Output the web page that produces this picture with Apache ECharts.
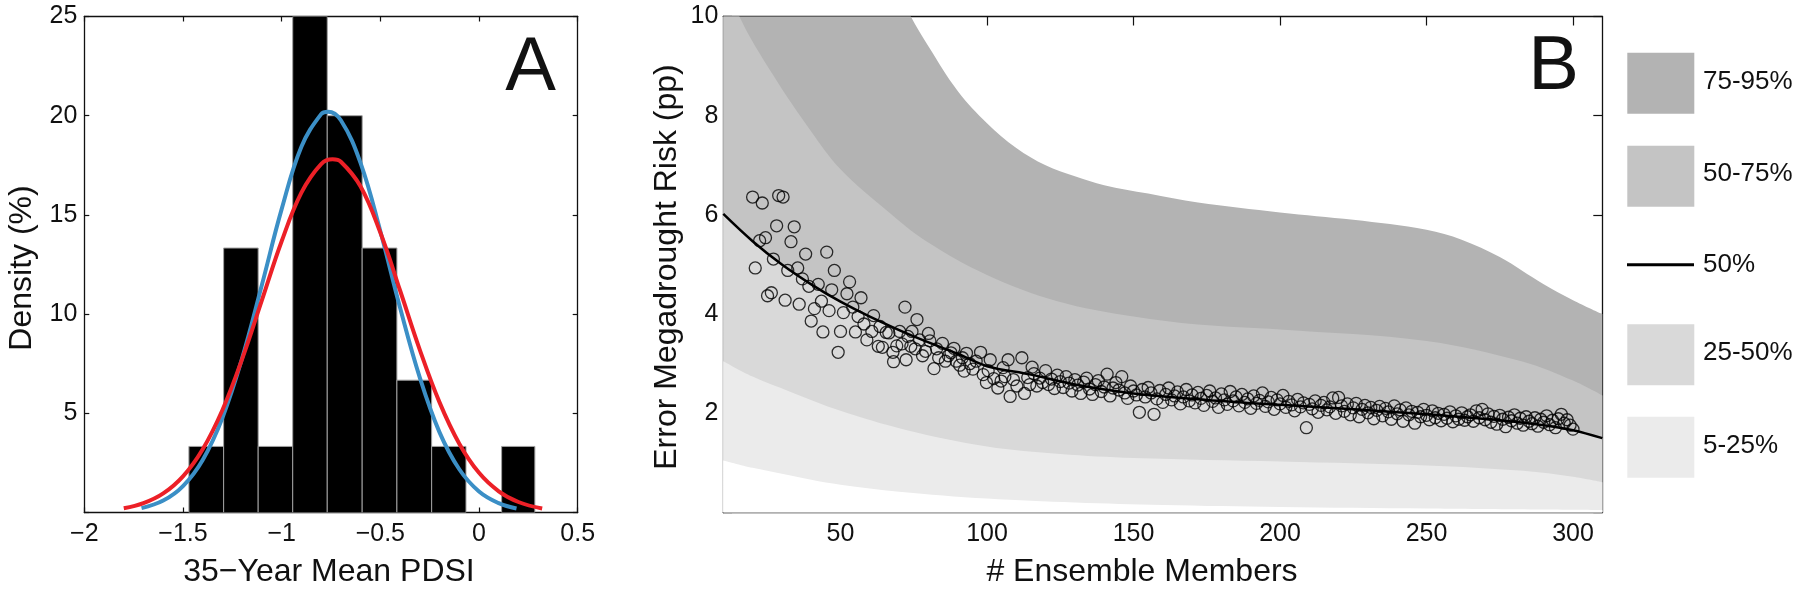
<!DOCTYPE html>
<html>
<head>
<meta charset="utf-8">
<script src="https://cdn.jsdelivr.net/npm/echarts@6/dist/echarts.min.js"></script>
<style>
html,body{margin:0;padding:0;background:#fff;}
#chart{width:1800px;height:591px;}
</style>
</head>
<body>
<div id="chart"></div>
<script>
// ---------- Panel A data ----------
const histEdges = [-1.470, -1.294, -1.119, -0.944, -0.769, -0.592, -0.416, -0.240, -0.066, 0.1145, 0.283];
const histDensity = [3.33, 13.33, 3.33, 26.67, 20.0, 13.33, 6.67, 3.33, 0, 3.33];
const aXTicks = [-2, -1.5, -1, -0.5, 0, 0.5];
const blueFit = [[-1.71,0.22],[-1.6,0.60],[-1.5,1.33],[-1.4,2.65],[-1.3,4.78],[-1.2,7.79],[-1.1,11.48],[-1.0,15.29],[-0.9,18.43],[-0.8,20.08],[-0.765,20.2],[-0.7,19.77],[-0.6,17.61],[-0.5,14.18],[-0.4,10.32],[-0.3,6.80],[-0.2,4.04],[-0.1,2.18],[0.0,1.06],[0.1,0.47],[0.19,0.20]];
const redFit = [[-1.80,0.21],[-1.7,0.47],[-1.6,0.96],[-1.5,1.82],[-1.4,3.19],[-1.3,5.17],[-1.2,7.74],[-1.1,10.70],[-1.0,13.67],[-0.9,16.12],[-0.8,17.56],[-0.742,17.8],[-0.7,17.68],[-0.6,16.43],[-0.5,14.11],[-0.4,11.19],[-0.3,8.20],[-0.2,5.55],[-0.1,3.47],[0.0,2.00],[0.1,1.07],[0.2,0.53],[0.32,0.20]];

// ---------- Panel B data ----------
const bXTicks = [50, 100, 150, 200, 250, 300];
const p95 = [[10,22],[40,14.5],[60,11.6],[74,10.0],[80,9.4],[90,8.5],[100,7.85],[110,7.35],[120,7.0],[130,6.78],[140,6.6],[155,6.43],[172,6.25],[200,6.05],[225,5.9],[250,5.7],[262,5.5],[275,5.15],[290,4.6],[300,4.28],[310,4.0]];
const p75 = [[10,11.0],[15.5,10.0],[27,8.82],[40,7.68],[50,6.92],[66,6.08],[79,5.48],[100,4.79],[124,4.26],[150,3.95],[172,3.79],[200,3.69],[250,3.46],[283,3.04],[300,2.66],[310,2.36]];
const p50 = [[10,6.02],[20,5.47],[30,5.0],[40,4.6],[50,4.25],[60,3.95],[75,3.55],[90,3.2],[100,2.95],[115,2.78],[130,2.58],[150,2.4],[175,2.27],[200,2.17],[225,2.08],[250,1.98],[275,1.86],[290,1.76],[300,1.66],[310,1.5]];
const p25 = [[10,3.05],[20,2.74],[33,2.43],[50,2.05],[72,1.67],[100,1.33],[125,1.18],[150,1.1],[200,1.03],[250,0.95],[283,0.84],[300,0.72],[310,0.61]];
const p5 = [[10,1.05],[20,0.9],[30,0.78],[40,0.66],[50,0.56],[70,0.42],[100,0.28],[130,0.2],[160,0.15],[200,0.11],[250,0.08],[310,0.05]];

const scatterEarly = [[20.0,6.36],[20.9,4.93],[22.4,5.48],[23.3,6.24],[24.4,5.54],[25.1,4.37],[26.4,4.43],[27.1,5.11],[28.2,5.78],[28.9,6.39],[30.4,6.36],[31.1,4.28],[32.0,4.88],[33.1,5.46],[34.2,5.76],[35.4,4.93],[35.9,4.20],[37.0,4.71],[38.1,5.21],[39.2,4.56],[40.0,3.86],[41.1,4.11],[42.4,4.60],[43.5,4.26],[44.0,3.64],[45.3,5.25],[46.1,4.07],[47.0,4.49],[47.9,4.88],[49.2,3.23],[50.0,3.65],[51.0,4.03],[52.2,4.41],[53.1,4.65],[54.2,4.14],[55.1,3.64],[56.0,3.95],[57.0,4.33],[58.0,3.80],[59.0,3.48],[60.7,3.65],[61.3,3.97],[62.9,3.35],[63.5,3.75],[64.3,3.33],[65.6,3.63],[66.5,3.62],[67.9,3.23],[68.1,3.04],[69.2,3.36],[70.2,3.65],[71.0,3.40],[72.0,4.14],[72.4,3.08],[73.0,3.55],[74.0,3.35],[74.4,3.65],[75.5,3.30],[76.1,3.89],[77.0,3.48],[78.0,3.16],[79.0,3.25],[80.0,3.61],[80.5,3.46],[81.9,2.90],[82.8,3.30],[83.5,3.12],[84.8,3.41],[85.8,3.05],[86.8,3.16],[87.7,3.22],[88.7,3.31],[89.5,3.05],[90.7,2.97],[91.6,3.12],[92.2,2.85],[93.0,3.21],[94.1,3.00],[95.2,2.89],[96.3,3.05],[97.8,3.23],[98.7,2.78],[99.8,2.62],[100.4,2.86],[101.1,3.08],[102.3,2.70],[103.7,2.51],[104.8,2.65],[105.5,2.92],[106.1,2.74],[107.2,3.08],[107.9,2.34],[109.0,2.68],[110.2,2.55],[111.9,3.12],[112.8,2.40],[113.9,2.72],[114.6,2.58],[115.4,2.93]];
const lateStart = 116;
const scatterLate = [
2.80,2.55,2.71,2.62,2.86,2.58,2.69,2.50,2.77,2.64,
2.52,2.74,2.61,2.45,2.68,2.57,2.40,2.63,2.71,2.49,
2.38,2.58,2.66,2.44,2.53,2.79,2.35,2.51,2.62,2.47,
2.74,2.41,2.30,2.55,2.45,2.37,2.02,2.48,2.33,2.52,
2.41,1.98,2.29,2.46,2.22,2.38,2.51,2.27,2.35,2.43,
2.19,2.33,2.48,2.25,2.37,2.21,2.42,2.30,2.16,2.36,
2.45,2.24,2.31,2.12,2.39,2.27,2.18,2.44,2.25,2.33,
2.15,2.38,2.22,2.29,2.10,2.35,2.20,2.26,2.41,2.14,
2.23,2.32,2.08,2.27,2.19,2.36,2.12,2.24,2.17,2.05,
2.28,2.13,2.21,1.71,2.18,2.09,2.25,2.02,2.16,2.22,
2.07,2.13,2.31,2.00,2.32,2.15,2.04,2.19,1.97,2.11,
2.20,1.93,2.08,2.16,2.01,2.12,1.89,2.06,2.14,1.95,
2.10,2.03,1.88,2.15,1.99,2.07,1.84,2.11,1.97,2.04,
1.80,2.02,1.93,2.08,1.96,1.87,2.05,1.91,2.00,1.85,
1.98,1.90,2.03,1.83,1.95,1.88,2.01,1.86,1.93,1.97,
1.84,2.05,1.91,2.08,1.87,1.99,1.82,1.94,1.78,1.96,
1.88,1.73,1.92,1.85,1.97,1.80,1.90,1.76,1.93,1.84,
1.79,1.91,1.74,1.88,1.82,1.95,1.77,1.86,1.71,1.89,
1.98,1.80,1.87,1.76,1.68];

const legendItems = ['75-95%', '50-75%', '50%', '25-50%', '5-25%'];
const bandColors = ['#b3b3b3', '#c4c4c4', '#d9d9d9', '#ebebeb'];

// ---------- build ----------
const FONT = '"Liberation Sans", Arial, Helvetica, sans-serif';
const histData = histDensity.map((h, i) => [histEdges[i], histEdges[i + 1], h]);
const scatterData = scatterEarly.concat(scatterLate.map((v, i) => [lateStart + i, v]));
const minus = v => (v < 0 ? '\u2212' + Math.abs(v) : String(v));

const chart = echarts.init(document.getElementById('chart'), null, {renderer: 'canvas'});

function axLine() { return {show: true, onZero: false, lineStyle: {color: '#111', width: 1.3}}; }
function xAx(gi, pos, min, max, interval, tickLen, show, custom, fmt) {
  const a = {
    type: 'value', gridIndex: gi, position: pos, min: min, max: max,
    axisLine: axLine(),
    axisTick: {show: true, inside: true, length: tickLen, lineStyle: {color: '#111', width: 1.2}},
    axisLabel: {show: show, fontSize: 25, fontFamily: FONT, color: '#111', margin: 9, formatter: fmt},
    splitLine: {show: false}
  };
  if (interval != null) a.interval = interval;
  if (custom) { a.axisTick.customValues = custom; a.axisLabel.customValues = custom; }
  return a;
}
function yAx(gi, pos, min, max, interval, tickLen, show, margin) {
  return {
    type: 'value', gridIndex: gi, position: pos, min: min, max: max, interval: interval,
    axisLine: axLine(),
    axisTick: {show: true, inside: true, length: tickLen, lineStyle: {color: '#111', width: 1.2}},
    axisLabel: {show: show, fontSize: 25, fontFamily: FONT, color: '#111', margin: margin,
      formatter: v => (v === 0 ? '' : String(v))},
    splitLine: {show: false}
  };
}

const areaSeries = (data, color, z) => ({
  type: 'line', xAxisIndex: 2, yAxisIndex: 2, data: data, smooth: 0.35,
  showSymbol: false, symbol: 'none', lineStyle: {width: 0, color: color},
  areaStyle: {color: color, opacity: 1, origin: 'start'}, z: z, silent: true, clip: true
});

const graphics = [];
graphics.push({type: 'text', x: 556, y: 69, style: {text: 'A', fontSize: 76, fontFamily: FONT, fill: '#111', align: 'right', verticalAlign: 'middle'}, z: 100});
graphics.push({type: 'text', x: 1579, y: 68, style: {text: 'B', fontSize: 76, fontFamily: FONT, fill: '#111', align: 'right', verticalAlign: 'middle'}, z: 100});
graphics.push({type: 'text', x: 329, y: 572, style: {text: '35\u2212Year Mean PDSI', fontSize: 32, fontFamily: FONT, fill: '#111', align: 'center', verticalAlign: 'middle'}});
graphics.push({type: 'text', x: 1142, y: 572, style: {text: '# Ensemble Members', fontSize: 32, fontFamily: FONT, fill: '#111', align: 'center', verticalAlign: 'middle'}});
graphics.push({type: 'text', x: 22, y: 268, rotation: Math.PI / 2, style: {text: 'Density (%)', fontSize: 32, fontFamily: FONT, fill: '#111', align: 'center', verticalAlign: 'middle'}});
graphics.push({type: 'text', x: 667, y: 267, rotation: Math.PI / 2, style: {text: 'Error Megadrought Risk (pp)', fontSize: 32, fontFamily: FONT, fill: '#111', align: 'center', verticalAlign: 'middle'}});
const legTops = [52.7, 145.7, null, 324.3, 416.7];
const legCenters = [81.5, 174.2, 264.7, 353, 446];
let ci = 0;
legendItems.forEach((name, i) => {
  if (legTops[i] == null) {
    graphics.push({type: 'line', shape: {x1: 1627, y1: 264.7, x2: 1694, y2: 264.7}, style: {stroke: '#000', lineWidth: 3}});
  } else {
    graphics.push({type: 'rect', shape: {x: 1627.3, y: legTops[i], width: 67, height: 61}, style: {fill: bandColors[ci++]}});
  }
  graphics.push({type: 'text', x: 1703, y: legCenters[i], style: {text: name, fontSize: 26, fontFamily: FONT, fill: '#111', align: 'left', verticalAlign: 'middle'}});
});

const option = {
  backgroundColor: '#fff',
  animation: false,
  grid: [
    {left: 84.3, top: 16.5, width: 493.4, height: 496, outerBoundsMode: 'none'},
    {left: 723.3, top: 16.5, width: 879, height: 496, outerBoundsMode: 'none'}
  ],
  xAxis: [
    xAx(0, 'bottom', -2, 0.5, 0.5, 5, true, null, minus),
    xAx(0, 'top', -2, 0.5, 0.5, 5, false, null, minus),
    xAx(1, 'bottom', 10, 310, null, 9, true, bXTicks, v => String(v)),
    xAx(1, 'top', 10, 310, null, 9, false, bXTicks, v => String(v))
  ],
  yAxis: [
    yAx(0, 'left', 0, 25, 5, 5, true, 7),
    yAx(0, 'right', 0, 25, 5, 5, false, 7),
    yAx(1, 'left', 0, 10, 2, 9, true, 5),
    yAx(1, 'right', 0, 10, 2, 9, false, 5)
  ],
  graphic: graphics,
  series: [
    {
      type: 'custom', xAxisIndex: 0, yAxisIndex: 0, data: histData, clip: true, z: 2,
      encode: {x: [0, 1], y: 2},
      renderItem: function (params, api) {
        const x0 = api.value(0), x1 = api.value(1), h = api.value(2);
        if (!(h > 0)) return null;
        const p0 = api.coord([x0, 0]);
        const p1 = api.coord([x1, h]);
        const top = Math.max(p1[1], params.coordSys.y);
        return {type: 'rect', shape: {x: p0[0], y: top, width: p1[0] - p0[0], height: p0[1] - top},
          style: {fill: '#000', stroke: '#a0a0a0', lineWidth: 1}};
      }
    },
    {type: 'line', xAxisIndex: 0, yAxisIndex: 0, data: blueFit, smooth: 0.4, showSymbol: false, symbol: 'none',
      lineStyle: {color: '#3b8fc6', width: 4}, z: 4},
    {type: 'line', xAxisIndex: 0, yAxisIndex: 0, data: redFit, smooth: 0.4, showSymbol: false, symbol: 'none',
      lineStyle: {color: '#ec2027', width: 4}, z: 5},

    areaSeries(p95, bandColors[0], 1),
    areaSeries(p75, bandColors[1], 2),
    areaSeries(p50, bandColors[2], 3),
    areaSeries(p25, bandColors[3], 4),
    areaSeries(p5, '#ffffff', 5),
    {type: 'scatter', xAxisIndex: 2, yAxisIndex: 2, data: scatterData, symbol: 'circle', symbolSize: 12,
      itemStyle: {color: 'rgba(0,0,0,0)', borderColor: '#000', borderWidth: 1.3}, z: 6},
    {type: 'line', xAxisIndex: 2, yAxisIndex: 2, data: p50, smooth: 0.35, showSymbol: false, symbol: 'none',
      lineStyle: {color: '#000', width: 2.5}, z: 7}
  ]
};
chart.setOption(option);
</script>
</body>
</html>
